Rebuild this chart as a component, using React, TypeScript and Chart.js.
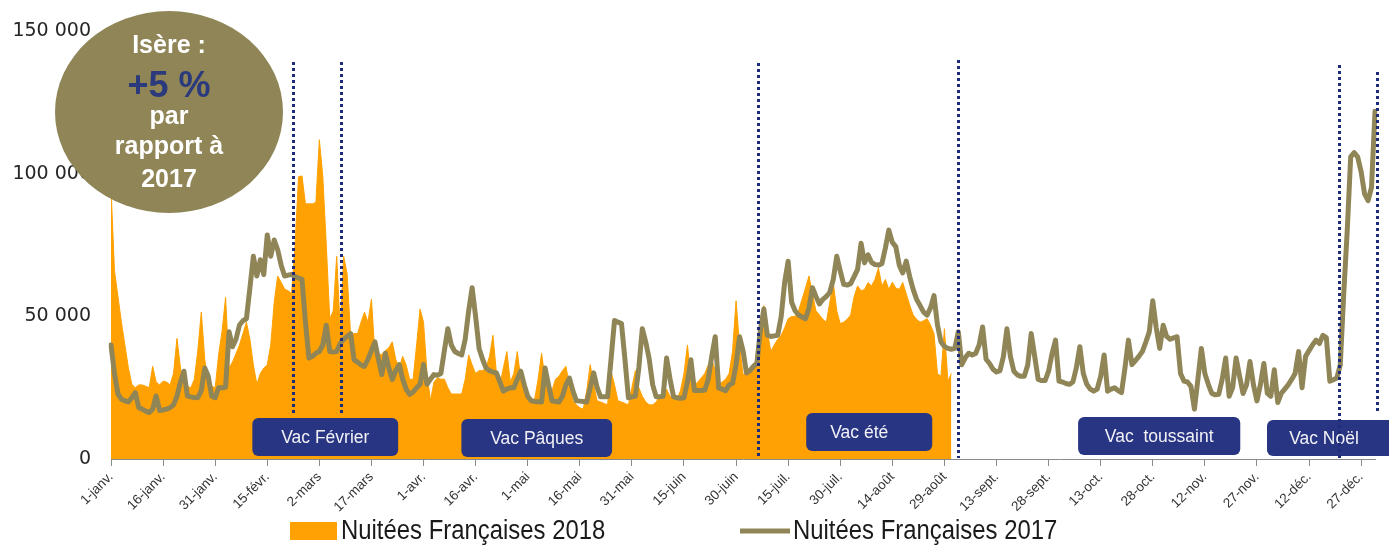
import React, { useEffect, useRef } from "react";
import { Chart, registerables } from "chart.js";

Chart.register(...registerables);

// ---- Data -----------------------------------------------------------------
// Tick labels every 15 days (day index 0, 15, 30, ...)
const TICK_LABELS = [
  "1-janv.", "16-janv.", "31-janv.", "15-févr.", "2-mars", "17-mars", "1-avr.",
  "16-avr.", "1-mai", "16-mai", "31-mai", "15-juin", "30-juin", "15-juil.",
  "30-juil.", "14-août", "29-août", "13-sept.", "28-sept.", "13-oct.", "28-oct.",
  "12-nov.", "27-nov.", "12-déc.", "27-déc.",
];
const TICK_STEP = 15;
const DAYS_IN_YEAR = 365;

const SERIES_2018_LABEL = "Nuitées Françaises 2018";
const SERIES_2017_LABEL = "Nuitées Françaises 2017";

// Daily French overnight stays 2018 (1 Jan -> 31 Aug)
const NUITEES_2018 = [
  95000, 66000, 57000, 48000, 40000, 32000, 26200, 25000, 26000, 26000,
  25500, 25000, 32500, 27000, 26000, 27300, 27000, 26000, 30000, 42300,
  32000, 26000, 25500, 25000, 28000, 38000, 51500, 35000, 26000, 25500,
  25000, 36600, 45000, 56700, 32000, 34000, 37000, 40000, 44000, 48000,
  42000, 33000, 26200, 30000, 31900, 33000, 40000, 55000, 64200, 62000,
  59600, 59000, 58000, 75000, 99000, 99300, 89500, 89500, 89500, 90000,
  112000, 99000, 75000, 49200, 52000, 71100, 45700, 71100, 65000, 43400,
  44000, 44000, 48000, 51500, 48000, 56100, 36700, 36700, 36700, 38000,
  39000, 41100, 35000, 32000, 36000, 33000, 27900, 28000, 40000, 52600,
  48000, 30000, 20400, 27000, 28400, 28000, 28000, 25000, 22800, 22800,
  22800, 22800, 28000, 36500, 33000, 30000, 31000, 31000, 32000, 36000,
  43400, 30000, 26000, 32000, 37700, 27000, 30000, 37700, 28000, 24000,
  22000, 21000, 21000, 28000, 37100, 28000, 22000, 24000, 28000, 29000,
  31000, 32500, 26000, 20400, 19000, 18000, 17500, 24000, 33100, 26000,
  20400, 20000, 19500, 19000, 30800, 26000, 20400, 20000, 19500, 19000,
  25000, 31000, 25000, 22000, 20000, 19000, 19000, 20000, 22000, 23000,
  24500, 22000, 21000, 21000, 24000, 30000, 40000, 28000, 26000, 27000,
  28500, 30000, 33000, 35000, 31000, 26000, 27000, 28000, 30000, 38000,
  55500, 40000, 29700, 29700, 30000, 33000, 33000, 45000, 53800, 45000,
  37700, 40000, 42000, 43400, 46000, 49200, 50000, 50000, 52000, 56000,
  60000, 64200, 58000, 52000, 50500, 49000, 48000, 55000, 61900, 52000,
  47500, 48000, 49000, 50500, 57000, 60700, 59000, 59500, 61900, 60700,
  63000, 67000, 60700, 63000, 59500, 62000, 60000, 59500, 61900, 58000,
  54000, 50500, 49000, 48000, 48500, 49200, 47000, 44000, 30000, 29000,
  45700, 27300, 30000,
];

// Daily French overnight stays 2017 (full year)
const NUITEES_2017 = [
  40000, 30000, 22800, 21000, 20400, 20000, 21500, 23300, 18000, 17500,
  16800, 16300, 17500, 22100, 17000, 17200, 17500, 18000, 19000, 22000,
  27000, 30800, 22100, 21800, 21600, 21500, 24000, 31900, 29000, 22000,
  21500, 25000, 25000, 25200, 44600, 39400, 42000, 47000, 48500, 49200,
  60000, 71100, 64200, 69900, 64700, 78600, 71100, 76800, 73400, 68000,
  64200, 64500, 64700, 64000, 63500, 63000, 48000, 35400, 36000, 37100,
  37700, 40000, 46900, 37700, 37500, 37700, 40500, 42000, 43000, 44000,
  34800, 34000, 33000, 32500, 35000, 38000, 41100, 35000, 29600, 37100,
  32000, 27900, 31000, 33100, 28000, 24500, 22700, 23500, 25000, 26200,
  33200, 26200, 28000, 29600, 29400, 30000, 38000, 45700, 40000, 37700,
  37000, 36500, 42000, 52000, 60100, 50000, 38800, 35000, 31900, 31000,
  30500, 30200, 27000, 23800, 24500, 25000, 25000, 28000, 30800, 26000,
  22000, 20400, 20200, 20100, 20000, 31900, 26000, 20400, 20200, 20000,
  22000, 26000, 28400, 24000, 20400, 20300, 20200, 20000, 25000, 30200,
  25000, 21800, 21800, 21800, 35000, 48600, 48000, 47500, 35000, 21500,
  21800, 22000, 32000, 45700, 41000, 35000, 26000, 21800, 21800, 22000,
  35400, 28000, 21800, 21500, 21300, 21500, 27000, 34800, 24000, 24000,
  24000, 24200, 28000, 36000, 42900, 24900, 24500, 24000, 26000, 26600,
  33000, 42900, 38000, 30200, 31000, 32500, 33600, 45000, 52600, 43400,
  43000, 43200, 43400, 50000, 62000, 69400, 55000, 52000, 50500, 49800,
  49200, 53000, 60100, 57000, 54400, 56000, 57000, 58500, 63000, 71100,
  66000, 61300, 61000, 61500, 64000, 66500, 75700, 68800, 71600, 69000,
  68200, 68000, 68500, 74000, 80300, 76000, 74500, 68000, 65300, 69400,
  64000, 59500, 56000, 53800, 51500, 50500, 53000, 57300, 47000, 41100,
  39500, 38800, 38500, 38800, 44600, 33100, 35500, 37100, 36500, 37000,
  40000, 46300, 35000, 33500, 31500, 30500, 31000, 36000, 45700, 36000,
  30800, 29500, 29000, 29000, 33000, 44000, 36000, 27900, 27500, 27500,
  30800, 37000, 41700, 27300, 27000, 26500, 26200, 27000, 32000, 39400,
  30000, 26200, 24500, 23800, 24500, 29000, 36500, 23800, 24500, 25000,
  24000, 23300, 32000, 41700, 33100, 34500, 36000, 37700, 41000, 44600,
  55500, 46000, 38800, 46900, 43000, 42000, 42500, 42900, 30000, 27300,
  27000, 25500, 17500, 28000, 38800, 30000, 26200, 23000, 22500, 22700,
  28000, 35400, 22000, 25000, 35400, 29000, 23000, 26000, 34200, 26000,
  20400, 26000, 33500, 23000, 22000, 31300, 19800, 23000, 24500, 26000,
  27900, 30000, 37700, 25000, 36000, 38000, 40000, 41700, 40500, 43400,
  42500, 27300, 27800, 28400, 33000, 58000, 80000, 106000, 107500, 106000,
  100800, 93000, 90600, 95300, 122000,
];

// Holiday markers (day index of the dotted lines)
const VACATION_LINE_DAYS = [52.5, 66.3, 186.2, 243.9, 353.5, 364.5];
// Holiday labels and their day span
const VACATION_LABELS = ["Vac Février", "Vac Pâques", "Vac été", "Vac  toussaint", "Vac Noël"];
const VACATION_LABEL_FROM = [40.7, 100.9, 200.2, 278.5, 332.9];
const VACATION_LABEL_TO = [82.7, 144.3, 236.5, 325.2, 370];

const BADGE_LINES = ["Isère :", "+5 %", "par", "rapport à", "2017"];

// ---- Styles / layout (kept apart from data) -------------------------------
const ORANGE = "#FFA102";
const OLIVE = "#8F8556";
const NAVY = "#283583";
const DOT_NAVY = "#1E2A7A";

// pixel geometry for markers: [top, bottom] of each dotted line
const LINE_GEOM = [[62, 415], [62, 413], [63, 458], [60, 458], [65, 458], [72, 414]];
// [top, bottom] of each label box
const BOX_GEOM = [[418, 456], [419, 457], [413, 451], [417, 455], [420, 456]];

const fmt = (v: number) => {
  const s = String(Math.round(v));
  return s.length > 3 ? s.slice(0, s.length - 3) + " " + s.slice(-3) : s;
};

const drawNarrowText = (ctx: CanvasRenderingContext2D, text: string, x: number, y: number, sx: number) => {
  ctx.save();
  ctx.translate(x, y);
  ctx.scale(sx, 1);
  ctx.fillText(text, 0, 0);
  ctx.restore();
};

const decorPlugin = {
  id: "decor",
  afterDatasetsDraw(chart: any) {
    const { ctx } = chart;
    const xs = chart.scales.x;
    ctx.save();
    // label boxes
    VACATION_LABELS.forEach((txt, i) => {
      const x0 = xs.getPixelForValue(VACATION_LABEL_FROM[i]);
      const x1 = xs.getPixelForValue(VACATION_LABEL_TO[i]);
      const [t, b] = BOX_GEOM[i];
      ctx.fillStyle = NAVY;
      ctx.beginPath();
      (ctx as any).roundRect(x0, t, x1 - x0, b - t, 6);
      ctx.fill();
      ctx.fillStyle = "#F2F2F7";
      ctx.font = "17.5px 'Liberation Sans', Arial, sans-serif";
      ctx.textAlign = "center";
      ctx.textBaseline = "middle";
      const cx = i === 4 ? (x0 + 1389) / 2 - 4 : i === 2 ? (x0 + x1) / 2 - 10 : (x0 + x1) / 2;
      ctx.fillText(txt, cx, (t + b) / 2 + 1);
    });
    // dotted lines
    ctx.strokeStyle = DOT_NAVY;
    ctx.lineWidth = 3;
    ctx.setLineDash([3, 3]);
    VACATION_LINE_DAYS.forEach((d, i) => {
      const px = Math.round(xs.getPixelForValue(d)) + 0.5;
      const [t, b] = LINE_GEOM[i];
      ctx.beginPath();
      ctx.moveTo(px, t);
      ctx.lineTo(px, b);
      ctx.stroke();
    });
    ctx.restore();
  },
  afterDraw(chart: any) {
    const { ctx } = chart;
    ctx.save();
    // badge
    ctx.fillStyle = OLIVE;
    ctx.beginPath();
    ctx.ellipse(169, 112, 114, 101, 0, 0, Math.PI * 2);
    ctx.fill();
    ctx.textAlign = "center";
    ctx.textBaseline = "alphabetic";
    const bf = "bold 25px 'Liberation Sans', Arial, sans-serif";
    ctx.fillStyle = "#FFFFFF";
    ctx.font = bf;
    ctx.fillText(BADGE_LINES[0], 169, 53);
    ctx.fillStyle = "#2A3A7C";
    ctx.font = "bold 36px 'Liberation Sans', Arial, sans-serif";
    ctx.fillText(BADGE_LINES[1], 169, 97);
    ctx.fillStyle = "#FFFFFF";
    ctx.font = bf;
    ctx.fillText(BADGE_LINES[2], 169, 124);
    ctx.fillText(BADGE_LINES[3], 169, 154);
    ctx.fillText(BADGE_LINES[4], 169, 187);

    // legend
    ctx.font = "27px 'Liberation Sans', Arial, sans-serif";
    ctx.textAlign = "left";
    ctx.textBaseline = "middle";
    ctx.fillStyle = ORANGE;
    ctx.fillRect(290, 522, 47, 18);
    ctx.fillStyle = "#1A1A1A";
    drawNarrowText(ctx, SERIES_2018_LABEL, 341, 532, 0.885);
    ctx.strokeStyle = OLIVE;
    ctx.lineWidth = 5;
    ctx.beginPath();
    ctx.moveTo(740, 531);
    ctx.lineTo(790, 531);
    ctx.stroke();
    ctx.fillStyle = "#1A1A1A";
    drawNarrowText(ctx, SERIES_2017_LABEL, 793, 532, 0.885);
    ctx.restore();
  },
};

export default function App() {
  const canvasRef = useRef<HTMLCanvasElement | null>(null);

  useEffect(() => {
    if (!canvasRef.current) return;
    const labels = Array.from({ length: DAYS_IN_YEAR }, (_, i) => i);
    const chart = new Chart(canvasRef.current, {
      type: "line",
      data: {
        labels,
        datasets: [
          {
            label: SERIES_2017_LABEL,
            data: NUITEES_2017,
            borderColor: OLIVE,
            borderWidth: 5,
            borderJoinStyle: "round",
            borderCapStyle: "round",
            pointRadius: 0,
            fill: false,
            tension: 0,
            order: 1,
          },
          {
            label: SERIES_2018_LABEL,
            data: NUITEES_2018,
            borderColor: ORANGE,
            backgroundColor: ORANGE,
            borderWidth: 1,
            pointRadius: 0,
            fill: "origin",
            tension: 0,
            order: 2,
          },
        ],
      },
      options: {
        animation: false,
        responsive: true,
        maintainAspectRatio: false,
        layout: { padding: { top: 25, right: 14, bottom: 0, left: 0 } },
        plugins: {
          legend: { display: false },
          tooltip: { enabled: false },
        },
        scales: {
          x: {
            type: "category",
            afterFit: (s: any) => {
              s.height = 89;
            },
            grid: {
              display: true,
              drawOnChartArea: false,
              drawTicks: true,
              tickLength: 7,
              color: "#8A8A8A",
            },
            border: { display: true, color: "#8A8A8A", width: 1 },
            ticks: {
              autoSkip: false,
              minRotation: 45,
              maxRotation: 45,
              padding: 3,
              color: "#333333",
              font: { size: 13.5, family: "'Liberation Sans', Arial, sans-serif" },
              callback: (v: any, i: number) =>
                i % TICK_STEP === 0 ? TICK_LABELS[i / TICK_STEP] : null,
            },
          },
          y: {
            min: 0,
            max: 150000,
            afterFit: (s: any) => {
              s.width = 111;
            },
            grid: { display: false, drawTicks: false },
            border: { display: false },
            ticks: {
              stepSize: 50000,
              padding: 20,
              color: "#262626",
              font: { size: 19, family: "'DejaVu Sans', 'Liberation Sans', sans-serif" },
              callback: (v: any) => fmt(Number(v)),
            },
          },
        },
      },
      plugins: [decorPlugin],
    });
    return () => chart.destroy();
  }, []);

  return (
    <div style={{ position: "fixed", left: 0, top: 0, width: 1389, height: 548, background: "#fff" }}>
      <canvas ref={canvasRef} />
    </div>
  );
}
